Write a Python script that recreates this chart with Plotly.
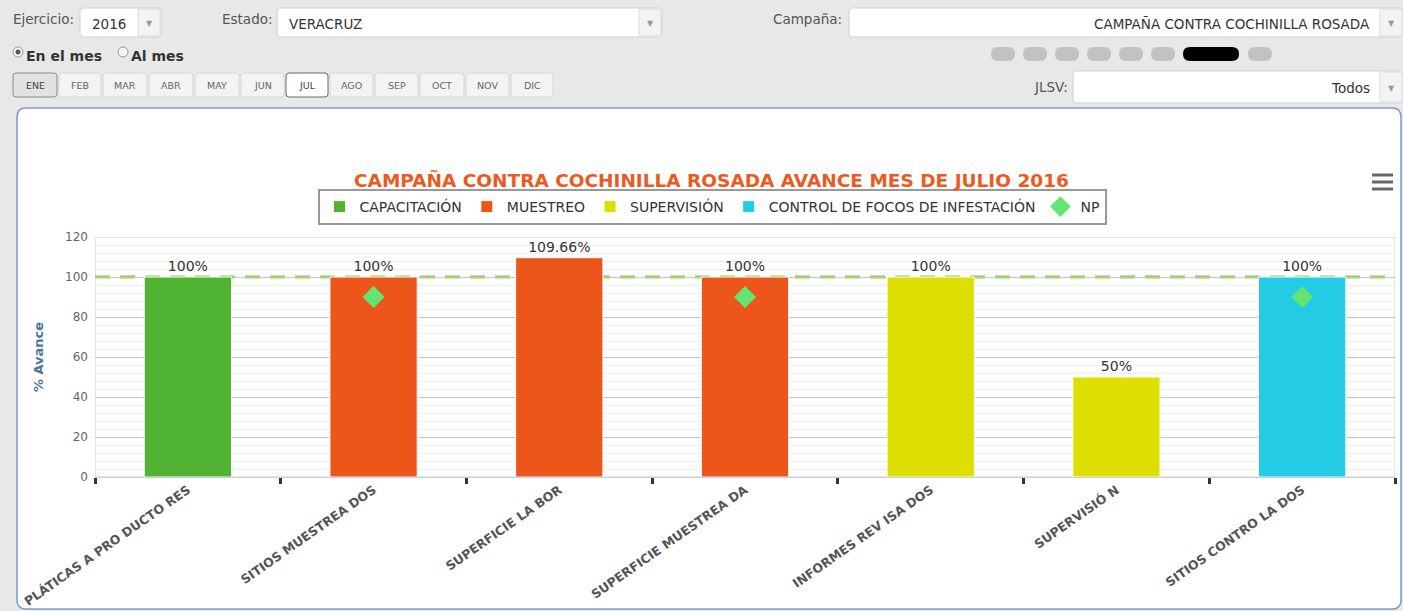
import plotly.graph_objects as go

# ---------------- data ----------------
categories = ["PLÁTICAS A PRO DUCTO RES", "SITIOS MUESTREA DOS", "SUPERFICIE LA BOR",
              "SUPERFICIE MUESTREA DA", "INFORMES REV ISA DOS", "SUPERVISIÓ N",
              "SITIOS CONTRO LA DOS"]

capacitacion_x = ["PLÁTICAS A PRO DUCTO RES"]
capacitacion_y = [100]
muestreo_x = ["SITIOS MUESTREA DOS", "SUPERFICIE LA BOR", "SUPERFICIE MUESTREA DA"]
muestreo_y = [100, 109.66, 100]
supervision_x = ["INFORMES REV ISA DOS", "SUPERVISIÓ N"]
supervision_y = [100, 50]
control_x = ["SITIOS CONTRO LA DOS"]
control_y = [100]
np_x = ["SITIOS MUESTREA DOS", "SUPERFICIE MUESTREA DA", "SITIOS CONTRO LA DOS"]
np_y = [90, 90, 90]
meta_value = 100
y_tick_values = [0, 20, 40, 60, 80, 100, 120]
y_max = 120

months = ["ENE", "FEB", "MAR", "ABR", "MAY", "JUN", "JUL", "AGO", "SEP", "OCT", "NOV", "DIC"]

title_text = "CAMPAÑA CONTRA COCHINILLA ROSADA AVANCE MES DE JULIO 2016"

# ---------------- layout helpers ----------------
W, H = 1403, 611
PL, PR, PT, PB = 95, 1395, 237, 477   # plot area in pixels


def X(px):
    return (px - PL) / (PR - PL)


def Y(py):
    return (PB - py) / (PB - PT)


FONT = "DejaVu Sans"
shapes = []
annotations = []


def rect(x0, y0, x1, y1, fill, line="rgba(0,0,0,0)", lw=1, layer="below"):
    shapes.append(dict(type="rect", xref="paper", yref="paper",
                       x0=X(x0), x1=X(x1), y0=Y(y0), y1=Y(y1),
                       fillcolor=fill, line=dict(color=line, width=lw), layer=layer))


def label(text, x, y, size=13, color="#555", anchor="left", bold=False):
    annotations.append(dict(text=("<b>%s</b>" % text) if bold else text,
                            x=X(x), y=Y(y), xref="paper", yref="paper",
                            xanchor=anchor, yanchor="middle", showarrow=False,
                            font=dict(family=FONT, size=size, color=color)))


def rounded_path(x0, y0, x1, y1, r):
    def p(x, y):
        return "%f,%f" % (X(x), Y(y))
    return ("M %s L %s Q %s %s L %s Q %s %s L %s Q %s %s L %s Q %s %s Z" % (
        p(x0 + r, y0), p(x1 - r, y0), p(x1, y0), p(x1, y0 + r),
        p(x1, y1 - r), p(x1, y1), p(x1 - r, y1),
        p(x0 + r, y1), p(x0, y1), p(x0, y1 - r),
        p(x0, y0 + r), p(x0, y0), p(x0 + r, y0)))


# ---------------- UI chrome ----------------
shapes.append(dict(type="path", xref="paper", yref="paper",
                   path=rounded_path(17, 108, 1401, 609, 9),
                   fillcolor="white", line=dict(color="#7b9bc6", width=1.5), layer="below"))


def dropdown(x0, y0, x1, y1, text, align="left"):
    shapes.append(dict(type="path", xref="paper", yref="paper",
                       path=rounded_path(x0, y0, x1, y1, 4),
                       fillcolor="white", line=dict(color="#cfcfcf", width=1), layer="below"))
    rect(x1 - 23, y0 + 1, x1 - 1, y1 - 1, "#f3f3f3", "#dcdcdc", 1)
    label("▼", x1 - 12, (y0 + y1) / 2 + 1, size=8, color="#9a9a9a", anchor="center")
    if align == "left":
        label(text, x0 + 10, (y0 + y1) / 2 + 1, size=13.5, color="#333")
    else:
        label(text, x1 - 31, (y0 + y1) / 2 + 1, size=13.5, color="#333", anchor="right")


label("Ejercicio:", 11, 19, size=13.5, color="#555")
dropdown(80, 8, 161, 37, "2016")
label("Estado:", 220, 19, size=13.5, color="#555")
dropdown(277, 8, 662, 37, "VERACRUZ")
label("Campaña:", 771, 19, size=13.5, color="#555")
dropdown(849, 8, 1403, 37, "CAMPAÑA CONTRA COCHINILLA ROSADA", align="right")
label("JLSV:", 1032, 87, size=13.5, color="#555")
dropdown(1073, 71, 1403, 103, "Todos", align="right")

for cx, filled in [(18, True), (123, False)]:
    shapes.append(dict(type="circle", xref="paper", yref="paper",
                       x0=X(cx - 5), x1=X(cx + 5), y0=Y(47), y1=Y(57),
                       fillcolor="#f4f4f4", line=dict(color="#999", width=1), layer="above"))
    if filled:
        shapes.append(dict(type="circle", xref="paper", yref="paper",
                           x0=X(cx - 2.5), x1=X(cx + 2.5), y0=Y(49.5), y1=Y(54.5),
                           fillcolor="#555", line=dict(width=0), layer="above"))
label("En el mes", 24, 56, size=14, color="#333", bold=True)
label("Al mes", 129, 56, size=14, color="#333", bold=True)

for cx in [1003, 1035, 1067, 1099, 1131, 1163, 1260]:
    shapes.append(dict(type="path", xref="paper", yref="paper",
                       path=rounded_path(cx - 12, 47, cx + 12, 61, 7),
                       fillcolor="#c2c2c2", line=dict(width=0), layer="below"))
shapes.append(dict(type="path", xref="paper", yref="paper",
                   path=rounded_path(1183, 47, 1239, 61, 7),
                   fillcolor="#000000", line=dict(width=0), layer="below"))

month_x = [13, 59, 103, 149, 195, 241, 286, 330, 375, 420, 466, 511]
month_w = [44, 42, 44, 44, 44, 43, 42, 43, 43, 44, 43, 42]
for m, x0, w in zip(months, month_x, month_w):
    if m == "ENE":
        fill, line = "#e2e2e2", "#8a8a8a"
    elif m == "JUL":
        fill, line = "#ffffff", "#6a6a6a"
    else:
        fill, line = "#f3f3f3", "#d8d8d8"
    shapes.append(dict(type="path", xref="paper", yref="paper",
                       path=rounded_path(x0, 73, x0 + w, 97, 3),
                       fillcolor=fill, line=dict(color=line, width=1), layer="below"))
    label(m, x0 + w / 2, 85, size=9.5, color="#444" if m in ("ENE", "JUL") else "#666",
          anchor="center")

for yy in [175, 182, 189]:
    shapes.append(dict(type="line", xref="paper", yref="paper",
                       x0=X(1372), x1=X(1393), y0=Y(yy), y1=Y(yy),
                       line=dict(color="#666", width=3), layer="above"))

# plot border and target line (in axis coordinates, drawn under the bars)
x_lo, x_hi = -0.5, len(categories) - 0.5
shapes.append(dict(type="rect", xref="x", yref="y", x0=x_lo, x1=x_hi, y0=0, y1=y_max,
                   line=dict(color="#cccccc", width=1), layer="below"))
shapes.append(dict(type="line", xref="x", yref="y", x0=x_lo, x1=x_hi,
                   y0=meta_value, y1=meta_value,
                   line=dict(color="#8ed046", width=3, dash="15px,10px"), layer="below"))

label(title_text, 711, 180, size=18.5, color="#ec5a22", anchor="center", bold=True)

# ---------------- traces ----------------
fig = go.Figure()
bar_common = dict(width=0.47, textposition="outside", texttemplate="%{y}%",
                  textfont=dict(family=FONT, size=14, color="#333"),
                  cliponaxis=False, marker_line=dict(color="white", width=1))
fig.add_trace(go.Bar(name="CAPACITACIÓN", x=capacitacion_x, y=capacitacion_y,
                     marker_color="#50B432", **bar_common))
fig.add_trace(go.Bar(name="MUESTREO", x=muestreo_x, y=muestreo_y,
                     marker_color="#ED561B", **bar_common))
fig.add_trace(go.Bar(name="SUPERVISIÓN", x=supervision_x, y=supervision_y,
                     marker_color="#DDDF00", **bar_common))
fig.add_trace(go.Bar(name="CONTROL DE FOCOS DE INFESTACIÓN", x=control_x, y=control_y,
                     marker_color="#24CBE5", **bar_common))
fig.add_trace(go.Scatter(name="NP", x=np_x, y=np_y, mode="markers",
                         marker=dict(symbol="diamond", size=17, color="#64E572"),
                         cliponaxis=False))

fig.update_layout(
    width=W, height=H, autosize=False,
    margin=dict(l=PL, r=W - PR, t=PT, b=H - PB, pad=0, autoexpand=False),
    paper_bgcolor="#e8e8e8", plot_bgcolor="white",
    barmode="overlay", hovermode=False,
    font=dict(family=FONT, color="#333"),
    showlegend=True,
    legend=dict(orientation="h", x=X(712), xanchor="center", y=Y(189), yanchor="top",
                bgcolor="white", bordercolor="#999", borderwidth=2,
                font=dict(family=FONT, size=14, color="#333"),
                itemclick=False, traceorder="normal"),
    xaxis=dict(type="category", categoryorder="array", categoryarray=categories,
               range=[x_lo, x_hi], automargin=False,
               showgrid=False, showline=True, linecolor="#C0D0E0", linewidth=1,
               ticks="outside", tickson="boundaries", ticklen=6, tickwidth=3,
               tickcolor="#333", tickangle=-35,
               tickfont=dict(family=FONT, size=12.5, color="#555", weight="bold"),
               fixedrange=True),
    yaxis=dict(range=[0, y_max], tickvals=y_tick_values, showgrid=True, automargin=False,
               gridcolor="#c4c4c4", gridwidth=1, zeroline=False, showline=False,
               tickfont=dict(family=FONT, size=12, color="#666"),
               ticklabelstandoff=6,
               minor=dict(dtick=4, showgrid=True, gridcolor="#efefef", gridwidth=1),
               title=dict(text="<b>% Avance</b>", standoff=18,
                          font=dict(family=FONT, size=13, color="#4d759e")),
               fixedrange=True),
    shapes=shapes, annotations=annotations,
)

fig.write_html("out.html", config={"displayModeBar": False, "responsive": False},
               post_script="document.body.style.margin='0';document.body.style.overflow='hidden';")
